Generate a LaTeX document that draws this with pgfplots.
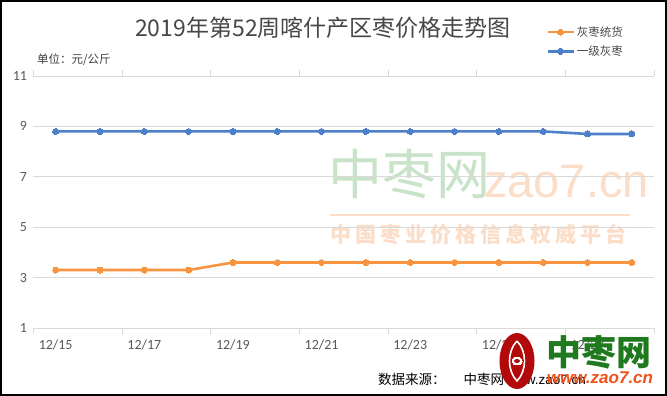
\documentclass[border=0pt]{standalone}
\usepackage{pgfplots}
\pgfplotsset{compat=1.18}
\usepackage{fontspec}
\setmainfont{Carlito}
\newfontfamily\cjk{Noto Sans CJK SC}
\newfontfamily\lib{Liberation Sans}
\definecolor{cOrange}{HTML}{F7943F}
\definecolor{cBlue}{HTML}{4D80C8}
\definecolor{cGrid}{HTML}{D9D9D9}
\definecolor{cText}{HTML}{595959}
\definecolor{wmGreen}{HTML}{C9E3C9}
\definecolor{wmOrange}{HTML}{FBDDC8}
\definecolor{logoGreen}{HTML}{1F7A1F}
\definecolor{logoRed}{HTML}{B20A0A}
\definecolor{webRed}{HTML}{F0501A}
\begin{document}
\begin{tikzpicture}[x=1pt,y=1pt]
\useasboundingbox (0,0) rectangle (667,396);
\fill[white] (0,0) rectangle (667,396);
% watermark
\node[anchor=west, text=wmGreen, font=\cjk\fontsize{54}{60}\selectfont, inner sep=0] at (328,222) {中枣网};
\node[anchor=west, text=wmOrange, font=\lib\fontsize{47}{50}\selectfont, inner sep=0] at (484,214) {zao7.cn};
\draw[wmOrange, line width=1.5pt] (330,181) -- (630,181);
\node[anchor=west, text=wmOrange, font=\cjk\bfseries\fontsize{21}{24}\selectfont, inner sep=0] at (330,162) {中\hspace{4pt}国\hspace{4pt}枣\hspace{4pt}业\hspace{4pt}价\hspace{4pt}格\hspace{4pt}信\hspace{4pt}息\hspace{4pt}权\hspace{4pt}威\hspace{4pt}平\hspace{4pt}台};
% title and unit
\node[text=cText!80!black, font=\cjk\fontsize{23}{26}\selectfont] at (323,368) {2019年第52周喀什产区枣价格走势图};
\node[anchor=west, text=cText!70!black, font=\cjk\fontsize{11.5}{13}\selectfont, inner sep=0] at (37,336) {单位：元/公斤};
\begin{axis}[
  at={(33.5pt,68pt)}, anchor=south west,
  scale only axis, width=620.5pt, height=252pt,
  xmin=-0.5, xmax=13.5, ymin=1, ymax=11,
  ytick={1,3,5,7,9,11},
  xtick={0,2,4,6,8,10,12},
  xticklabels={12/15,12/17,12/19,12/21,12/23,12/25,12/27},
  extra x ticks={-0.5,1.5,3.5,5.5,7.5,9.5,11.5,13.5},
  extra x tick labels={},
  extra x tick style={major tick length=6pt, tick align=outside, tick style={draw=cGrid, line width=0.8pt}},
  major tick length=0pt,
  ymajorgrids, grid style={draw=cGrid, line width=0.8pt},
  axis line style={draw=none},
  /pgf/number format/assume math mode=true,
  yticklabel style={font=\fontsize{14}{16}\selectfont, text=cText, xshift=-3pt},
  xticklabel style={font=\fontsize{14}{16}\selectfont, text=cText, yshift=-8pt},
  legend style={at={(0.826,1.205)}, anchor=north west, draw=none, fill=none,
    font=\cjk\fontsize{11.5}{13}\selectfont, text=cText!80!black, row sep=4pt, inner sep=0pt},
  legend image code/.code={\draw[#1, mark repeat=2, mark phase=2] plot coordinates {(0pt,0pt) (13pt,0pt) (26pt,0pt)};},
  legend cell align=left,
  clip=false,
]
\addplot[cOrange, line width=2.6pt, mark=*, mark size=3pt, mark options={line width=0pt}] coordinates {
(0,3.3)(1,3.3)(2,3.3)(3,3.3)(4,3.6)(5,3.6)(6,3.6)(7,3.6)(8,3.6)(9,3.6)(10,3.6)(11,3.6)(12,3.6)(13,3.6)};
\addlegendentry{灰枣统货}
\addplot[cBlue, line width=2.6pt, mark=*, mark size=3pt, mark options={line width=0pt}] coordinates {
(0,8.8)(1,8.8)(2,8.8)(3,8.8)(4,8.8)(5,8.8)(6,8.8)(7,8.8)(8,8.8)(9,8.8)(10,8.8)(11,8.8)(12,8.7)(13,8.7)};
\addlegendentry{一级灰枣}
\end{axis}
% source
\node[anchor=west, font=\cjk\fontsize{13.5}{16}\selectfont, inner sep=0] at (378,17) {数据来源：\hspace{18pt}中枣网\,{\lib www.zao7.cn}};
% logo
\fill[logoRed] (517,35) ellipse [x radius=17.5, y radius=28];
\draw[white, line width=1.6pt] (517,55) .. controls (527,45) and (527,25) .. (517,15) .. controls (507,25) and (507,45) .. (517,55);
\draw[logoRed, fill=white, line width=0pt] (517,35) ellipse [x radius=6, y radius=5];
\fill[logoRed] (517,35) ellipse [x radius=3, y radius=2];
\node[text=logoGreen, font=\cjk\bfseries\fontsize{35}{38}\selectfont, inner sep=0] at (599,44) {中枣网};
\node[text=webRed, font=\lib\bfseries\itshape\fontsize{17}{19}\selectfont, inner sep=0] at (600,18) {www.zao7.cn};
% frame
\draw[black, line width=2pt] (1,1) rectangle (666,395);
\end{tikzpicture}
\end{document}
